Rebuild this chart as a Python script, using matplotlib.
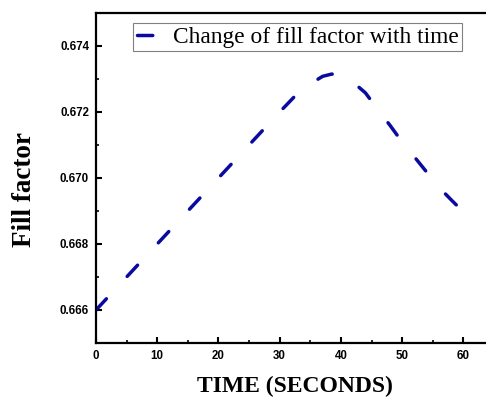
import matplotlib
matplotlib.use("Agg")
import matplotlib.pyplot as plt
from matplotlib.ticker import MultipleLocator

time_s = [0, 5, 10, 15, 20, 25, 30, 33, 35, 37, 38.5, 40, 42, 44, 46, 48, 50, 52, 54, 56, 58, 60]
fill_factor = [0.6660, 0.6670, 0.6680, 0.6690, 0.6700, 0.6710, 0.6720, 0.67258, 0.67285,
               0.67308, 0.67315, 0.67310, 0.67290, 0.67258, 0.67208, 0.67160, 0.67109,
               0.67064, 0.67018, 0.66972, 0.66934, 0.66897]
series_label = "Change of fill factor with time"
x_ticks = [0, 10, 20, 30, 40, 50, 60]
y_ticks = [0.666, 0.668, 0.670, 0.672, 0.674]

plt.rcParams['lines.scale_dashes'] = False
fig = plt.figure(figsize=(4.86, 3.97), dpi=100)
ax = fig.add_axes([96/486, 54/397, 398/486, 330/397])

ax.plot(time_s, fill_factor, color='#0a0aa0', lw=2.5, ls=(0, (11, 22)),
        dash_capstyle='round', label=series_label)

ax.set_xlim(0, 65)
ax.set_ylim(0.665, 0.675)
ax.set_xticks(x_ticks)
ax.set_yticks(y_ticks)
ax.set_xticklabels([str(v) for v in x_ticks])
ax.set_yticklabels([f"{v:.3f}" for v in y_ticks])
ax.xaxis.set_minor_locator(MultipleLocator(5))
ax.yaxis.set_minor_locator(MultipleLocator(0.001))
ax.tick_params(which='major', direction='in', length=4, width=1.5, pad=5)
ax.tick_params(which='minor', direction='in', length=2.5, width=1.2)
ax.tick_params(axis='y', which='both', right=False)
ax.tick_params(axis='x', which='both', top=False)
for lab in ax.get_xticklabels() + ax.get_yticklabels():
    lab.set_fontfamily('Liberation Sans')
    lab.set_fontweight('bold')
    lab.set_fontsize(8.3)
for s in ax.spines.values():
    s.set_linewidth(1.6)

ax.set_xlabel("TIME (SECONDS)", family='Liberation Serif', weight='bold', fontsize=17, labelpad=10)
ax.set_ylabel("Fill factor", family='Liberation Serif', weight='bold', fontsize=19.5,
              va='center', ha='center')
ax.yaxis.set_label_coords((25 - 96)/398, (343 - 190)/330)

leg = ax.legend(loc='upper left', bbox_to_anchor=((133 - 96)/398, 1 - 10/330),
                prop={'family': 'Liberation Serif', 'size': 16.8},
                fancybox=False, framealpha=1, edgecolor='#808080', borderpad=0.15,
                handlelength=1.45, handletextpad=0.1, borderaxespad=0)
leg.get_frame().set_linewidth(0.8)

fig.savefig("out.png", dpi=100)
